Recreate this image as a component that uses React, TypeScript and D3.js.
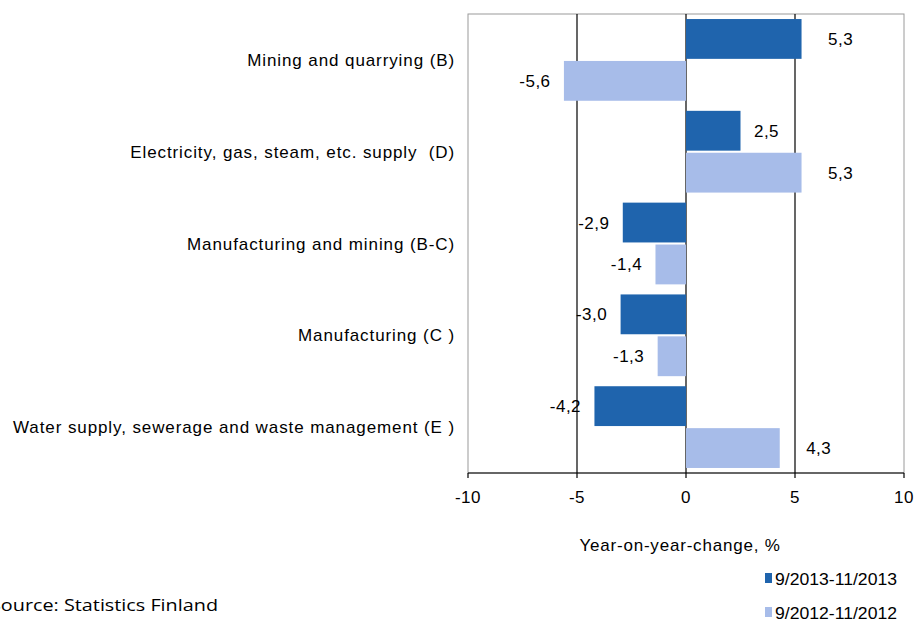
import React from 'react';
import * as d3 from 'd3';

const categories = [
  'Mining and quarrying (B)',
  'Electricity, gas, steam, etc. supply  (D)',
  'Manufacturing and mining (B-C)',
  'Manufacturing (C )',
  'Water supply, sewerage and waste management (E )',
];
const series2013 = [5.3, 2.5, -2.9, -3.0, -4.2];
const series2012 = [-5.6, 5.3, -1.4, -1.3, 4.3];
const seriesNames = ['9/2013-11/2013', '9/2012-11/2012'];
const seriesColors = ['#1F64AD', '#A7BCE9'];
const xTicks = [-10, -5, 0, 5, 10];

const W = 916, H = 621;
const left = 468, right = 904, top = 14, bottom = 473;
const font = '"Liberation Sans", Arial, sans-serif';

const App = () => {
  const x = d3.scaleLinear().domain([-10, 10]).range([left, right]);
  const y = d3.scaleBand().domain(categories).range([top, bottom]).paddingInner(0).paddingOuter(0);
  const inner = d3.scaleBand().domain(['a', 'b']).range([0, y.bandwidth()]).paddingOuter(0.12).paddingInner(0.05);
  const fmt = (v: number) => v.toFixed(1).replace('.', ',');
  const allSeries = [series2013, series2012];

  // positive labels sit past the bar end; pulled in when they would touch the 5 gridline
  const labelX = (v: number) => {
    if (v < 0) return x(v) - 29;
    const far = x(v) + 39;
    if (far + 13 > x(5) - 8 && x(v) + 39 < x(5) - 2) return x(v) + 26;
    return far;
  };

  return (
    <svg width={W} height={H} style={{ position: 'absolute', left: 0, top: 0, background: '#fff' }}>
      <rect x={left} y={top} width={right - left} height={bottom - top} fill="none" stroke="#9a9a9a" strokeWidth={1} />
      {xTicks.slice(1, -1).map(t => (
        <line key={t} x1={x(t)} x2={x(t)} y1={top} y2={bottom} stroke="#000" strokeWidth={1.2} />
      ))}
      {allSeries.map((vals, si) =>
        vals.map((v, i) => {
          const yy = (y(categories[i]) as number) + (inner(si ? 'b' : 'a') as number);
          const x0 = x(Math.min(0, v));
          const w = Math.abs(x(v) - x(0));
          return (
            <g key={si + '-' + i}>
              <rect x={x0} y={yy} width={w} height={inner.bandwidth()} fill={seriesColors[si]} />
              <text
                x={labelX(v)}
                y={yy + inner.bandwidth() / 2 + 6}
                textAnchor="middle"
                fontFamily={font}
                fontSize={17}
                letterSpacing={0.5}
                fill="#000"
              >
                {fmt(v)}
              </text>
            </g>
          );
        })
      )}
      <line x1={left} x2={right} y1={bottom} y2={bottom} stroke="#000" strokeWidth={1.2} />
      {xTicks.map(t => (
        <g key={t}>
          <line x1={x(t)} x2={x(t)} y1={bottom} y2={bottom + 5} stroke="#000" strokeWidth={1.2} />
          <text x={x(t)} y={bottom + 30} textAnchor="middle" fontFamily={font} fontSize={17} letterSpacing={0.5}>{t}</text>
        </g>
      ))}
      {categories.map(c => (
        <text key={c} x={455} y={(y(c) as number) + y.bandwidth() / 2 + 6} textAnchor="end" fontFamily={font} fontSize={17} letterSpacing={0.9} style={{ whiteSpace: 'pre' }}>
          {c}
        </text>
      ))}
      <text x={680} y={551} textAnchor="middle" fontFamily={font} fontSize={17} letterSpacing={0.8}>Year-on-year-change, %</text>
      {seriesNames.map((s, i) => (
        <g key={s}>
          <rect x={765} y={573 + i * 34} width={7} height={10} fill={seriesColors[i]} />
          <text x={775} y={585 + i * 34} fontFamily={font} fontSize={16} textLength={122} lengthAdjust="spacingAndGlyphs">{s}</text>
        </g>
      ))}
      <text x={-10} y={611} fontFamily='"Open Sans", sans-serif' fontSize={17} textLength={228} lengthAdjust="spacingAndGlyphs">Source: Statistics Finland</text>
    </svg>
  );
};

export default App;
